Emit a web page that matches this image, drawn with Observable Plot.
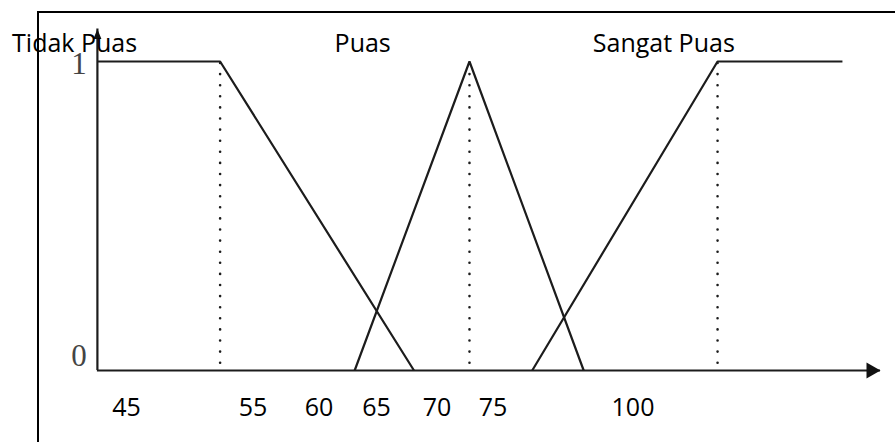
<!DOCTYPE html>
<html>
<head>
<meta charset="utf-8">
<script src="https://cdn.jsdelivr.net/npm/d3@7"></script>
<script src="https://cdn.jsdelivr.net/npm/@observablehq/plot@0.6"></script>
<style>
  html, body { margin: 0; padding: 0; background: #fff; }
  #wrap { position: relative; width: 895px; height: 442px; overflow: hidden; }
  #frame { position: absolute; left: 37px; top: 11px; right: -10px; bottom: -10px;
           border-top: 2.5px solid #000; border-left: 2.5px solid #000; }
  #chart { position: absolute; left: 0; top: 0; }
</style>
</head>
<body>
<div id="wrap"><div id="frame"></div><div id="chart"></div></div>
<script>
// Score labels along the horizontal axis
const scoreTicks = [45, 55, 60, 65, 70, 75, 100];
// Membership degrees marked on the vertical axis
const degreeTicks = [0, 1];
// Linguistic sets
const setNames = ["Tidak Puas", "Puas", "Sangat Puas"];
// Breakpoints of each membership function (score, degree)
const tidakPuasScore = [42.7, 52.4, 68.1];
const tidakPuasDegree = [1, 1, 0];
const puasScore = [63.1, 72.9, 91.2];
const puasDegree = [0, 1, 0];
const sangatPuasScore = [82.0, 115.1, 137.4];
const sangatPuasDegree = [0, 1, 1];
// Score where each set reaches full membership (dotted guides)
const fullScore = [52.4, 72.9, 115.1];
// Where each set's name sits along the score axis
const labelScore = [40.9, 63.8, 105.5];
// Axis extents
const axisStart = 42.7;
const axisEnd = 144.2;
const degreeAxisTop = 1.105;

// One row per breakpoint, tagged with its set
const rows = [];
[[tidakPuasScore, tidakPuasDegree], [puasScore, puasDegree], [sangatPuasScore, sangatPuasDegree]]
  .forEach(([xs, ys], k) => xs.forEach((x, i) => rows.push({set: setNames[k], score: x, degree: ys[i]})));

// Solid arrowheads: the tip sits on the anchor point
const arrowRight = {draw(ctx, size) {
  const r = Math.sqrt(size / Math.PI);
  ctx.moveTo(0, 0); ctx.lineTo(-1.75 * r, -r); ctx.lineTo(-1.75 * r, r); ctx.closePath();
}};
const arrowUp = {draw(ctx, size) {
  const r = Math.sqrt(size / Math.PI);
  ctx.moveTo(0, 0); ctx.lineTo(r, 2.5 * r); ctx.lineTo(-r, 2.5 * r); ctx.closePath();
}};

const ink = "#1c1c1c";

const chart = Plot.plot({
  width: 895,
  height: 442,
  marginTop: 61,
  marginBottom: 72,
  marginLeft: 0,
  marginRight: 0,
  style: {background: "transparent", fontFamily: "'Open Sans', sans-serif", color: "#000", overflow: "visible"},
  // the score labels are spaced by hand, so the axis is piecewise linear between them
  x: {type: "linear", domain: scoreTicks, range: [126, 252.5, 318.5, 376, 436.5, 492.5, 632.5]},
  y: {domain: [0, 1], axis: null},
  marks: [
    // dotted guides down from each full-membership point
    Plot.ruleX(fullScore, {y1: 1, y2: 0, insetTop: 2, insetBottom: 5, stroke: ink,
      strokeWidth: 2.6, strokeDasharray: "0 11.1", strokeLinecap: "round"}),
    // axes with arrowheads
    Plot.ruleY([0], {x1: axisStart, x2: axisEnd, stroke: ink, strokeWidth: 2.2}),
    Plot.ruleX([axisStart], {y1: 0, y2: degreeAxisTop, stroke: ink, strokeWidth: 2.2}),
    Plot.dot([axisEnd], {x: d => d, y: () => 0, symbol: arrowRight, r: 8, fill: "#111"}),
    Plot.dot([degreeAxisTop], {x: () => axisStart, y: d => d, symbol: arrowUp, r: 4, fill: "#111"}),
    // membership functions
    Plot.line(rows, {x: "score", y: "degree", z: "set", stroke: ink, strokeWidth: 2.2,
      strokeLinejoin: "miter", strokeLinecap: "butt"}),
    // score labels
    Plot.axisX({ticks: scoreTicks, tickSize: 0, tickPadding: 28, fontSize: 25, label: null, fill: "#000"}),
    // degree labels
    Plot.text(degreeTicks.filter(d => d === 0), {x: () => axisStart, y: d => d, text: d => String(d),
      dx: -18.5, dy: -14.5, fontFamily: "'Liberation Serif', serif", fontSize: 31, fill: "#444"}),
    Plot.text(degreeTicks.filter(d => d === 1), {x: () => axisStart, y: d => d, text: d => String(d),
      dx: -18.5, dy: 3, fontFamily: "'Liberation Serif', serif", fontSize: 31, fill: "#444"}),
    // set names
    Plot.text(setNames, {x: (d, i) => labelScore[i], frameAnchor: "top", lineAnchor: "middle",
      dy: -17.5, text: d => d, fontSize: 25, fill: "#000"})
  ]
});

document.getElementById("chart").appendChild(chart);
</script>
</body>
</html>
